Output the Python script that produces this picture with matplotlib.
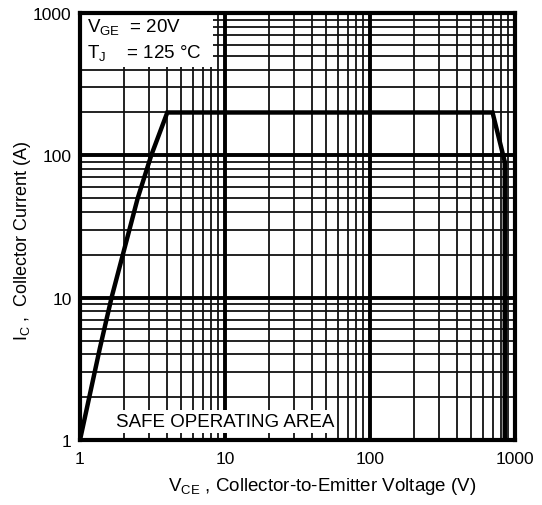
import matplotlib
matplotlib.use("Agg")
import matplotlib.pyplot as plt
from matplotlib.patches import Rectangle
from matplotlib.ticker import FixedLocator, NullFormatter

plt.rcParams['font.family'] = ['Liberation Sans', 'DejaVu Sans']
plt.rcParams['mathtext.fontset'] = 'custom'
plt.rcParams['mathtext.rm'] = 'Liberation Sans'
plt.rcParams['mathtext.it'] = 'Liberation Sans'
plt.rcParams['mathtext.default'] = 'regular'

# data
vce = [1, 1.37, 1.65, 2.5, 3.1, 4, 700, 850, 850]
ic = [1, 4.4, 10, 50, 100, 200, 200, 90, 1]
x_ticks = [1, 10, 100, 1000]
x_tick_labels = ["1", "10", "100", "1000"]
y_ticks = [1, 10, 100, 1000]
y_tick_labels = ["1", "10", "100", "1000"]

fig = plt.figure(figsize=(5.42, 5.06), dpi=100)
ax = fig.add_axes([80/542, 1-441/506, 435/542, 427/506])
ax.set_xscale('log')
ax.set_yscale('log')
ax.set_xlim(1, 1000)
ax.set_ylim(1, 1000)

# grid
minor_vals = [m * d for d in (1, 10, 100) for m in range(2, 10)]
for v in minor_vals:
    ax.axvline(v, color='#111111', lw=1.3, zorder=1)
    ax.axhline(v, color='#111111', lw=1.3, zorder=1)
for v in x_ticks[1:-1]:
    ax.axvline(v, color='black', lw=2.8, zorder=1)
for v in y_ticks[1:-1]:
    ax.axhline(v, color='black', lw=2.8, zorder=1)

ax.plot(vce, ic, color='black', lw=3.2, solid_joinstyle='miter', zorder=3)

ax.xaxis.set_major_locator(FixedLocator(x_ticks))
ax.yaxis.set_major_locator(FixedLocator(y_ticks))
ax.xaxis.set_minor_formatter(NullFormatter())
ax.yaxis.set_minor_formatter(NullFormatter())
ax.set_xticklabels(x_tick_labels)
ax.set_yticklabels(y_tick_labels)
ax.tick_params(which='both', length=0, labelsize=12.5, pad=8)
ax.tick_params(axis='y', pad=6)

for s in ax.spines.values():
    s.set_linewidth(3)
    s.set_zorder(5)

ax.set_xlabel(r'$V_{CE}$ , Collector-to-Emitter Voltage (V)', fontsize=13.5)
ax.xaxis.set_label_coords(0.556, -0.083)
ax.set_ylabel(r'$I_{C}$ ,  Collector Current (A)', fontsize=13)
ax.yaxis.set_label_coords(-0.108, 0.47)

# condition box
ax.add_patch(Rectangle((0, 1-(68-14)/427), (213-80)/435, (68-14)/427,
                       transform=ax.transAxes, facecolor='white', edgecolor='none', zorder=4))
ax.text(0.016, 0.9696, r'$V_{GE}$  = 20V', transform=ax.transAxes,
        ha='left', va='center', fontsize=13.5, zorder=4.5)
ax.text(0.016, 0.9087, r'$T_J$    = 125 °C', transform=ax.transAxes,
        ha='left', va='center', fontsize=13.5, zorder=4.5)

ax.text(0.333, 0.043, 'SAFE OPERATING AREA', transform=ax.transAxes, ha='center', va='center',
        fontsize=13.5, zorder=4, bbox=dict(facecolor='white', edgecolor='none', pad=2))

fig.savefig('out.png', dpi=100)
